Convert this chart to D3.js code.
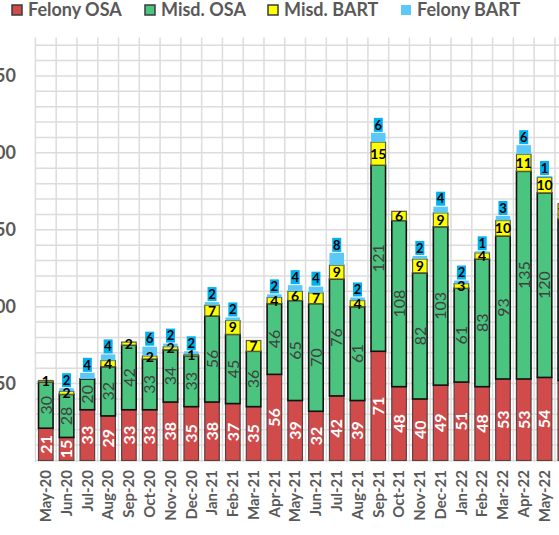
<!DOCTYPE html>
<html>
<head>
<meta charset="utf-8">
<script src="https://cdn.jsdelivr.net/npm/d3@7"></script>
<style>
  body { margin: 0; background: #fff; }
  svg { display: block; font-family: Lato, "Open Sans", sans-serif; }
</style>
</head>
<body>
<svg id="chart" width="559" height="535"></svg>
<script>
// chart data
var months = ["May-20","Jun-20","Jul-20","Aug-20","Sep-20","Oct-20","Nov-20","Dec-20",
              "Jan-21","Feb-21","Mar-21","Apr-21","May-21","Jun-21","Jul-21","Aug-21",
              "Sep-21","Oct-21","Nov-21","Dec-21","Jan-22","Feb-22","Mar-22","Apr-22",
              "May-22","Jun-22"];
var felonyOSA  = [21,15,33,29,33,33,38,35,38,37,35,56,39,32,42,39,71,48,40,49,51,48,53,53,54,52];
var misdOSA    = [30,28,20,32,42,33,34,33,56,45,36,46,65,70,76,61,121,108,82,103,61,83,93,135,120,105];
var misdBART   = [1,2,0,4,2,2,2,1,7,9,7,4,6,7,9,4,15,6,9,9,3,4,10,11,10,10];
var felonyBART = [0,2,4,4,0,6,2,2,2,2,0,2,4,4,8,2,6,0,2,4,2,1,3,6,1,0];
var seriesNames = ["Felony OSA","Misd. OSA","Misd. BART","Felony BART"];
var yTicks = [50,100,150,200,250];

var colors = {"Felony OSA":"#d24b4b","Misd. OSA":"#4bc47f","Misd. BART":"#ffff00","Felony BART":"#5bc8f7"};
var strokes = {"Felony OSA":"#5e4040","Misd. OSA":"#111","Misd. BART":"#5a5a3a","Felony BART":"none"};

var rows = months.map(function (m, i) {
    return {month: m, "Felony OSA": felonyOSA[i], "Misd. OSA": misdOSA[i],
            "Misd. BART": misdBART[i], "Felony BART": felonyBART[i]};
});

var svg = d3.select("#chart");

var x = d3.scaleBand().domain(months).range([35.4, 575.7]).paddingInner(0.3).paddingOuter(0.15);
var y = d3.scaleLinear().domain([0, 275]).range([460.5, 37.5]);

// grid
var grid = svg.append("g").attr("stroke", "#dcdcdc").attr("stroke-width", 1.5);
grid.selectAll(".h").data(d3.range(0, 271, 10)).join("line")
    .attr("x1", 35.4).attr("x2", 559)
    .attr("y1", function (d) { return y(d); }).attr("y2", function (d) { return y(d); });
grid.selectAll(".v").data(d3.range(0, months.length + 1)).join("line")
    .attr("x1", function (d) { return 35.4 + d * x.step(); })
    .attr("x2", function (d) { return 35.4 + d * x.step(); })
    .attr("y1", 37.5).attr("y2", 462);

// y axis labels (left part cut off like the picture)
var yAxis = svg.append("g").attr("transform", "translate(16,0)")
    .call(d3.axisLeft(y).tickValues(yTicks).tickSize(0).tickPadding(0));
yAxis.select(".domain").remove();
yAxis.selectAll("text").attr("fill", "#595959").attr("font-size", 18).attr("font-weight", "bold")
    .attr("font-family", "Lato, sans-serif");

// x axis labels
var xAxis = svg.append("g").attr("transform", "translate(0,462)")
    .call(d3.axisBottom(x).tickSize(0));
xAxis.select(".domain").remove();
xAxis.selectAll("text")
    .attr("transform", "rotate(-90)")
    .attr("x", -8).attr("y", 0).attr("dy", "0.35em")
    .attr("text-anchor", "end")
    .attr("fill", "#595959").attr("font-size", 15).attr("font-weight", "bold")
    .attr("font-family", "Lato, sans-serif");

// stacked bars
var stacked = d3.stack().keys(seriesNames)(rows);

var layers = svg.selectAll(".layer").data(stacked).join("g").attr("class", "layer");
layers.each(function (layer) {
    var key = layer.key;
    d3.select(this).selectAll("rect").data(layer).join("rect")
        .attr("x", function (d) { return x(d.data.month); })
        .attr("width", x.bandwidth())
        .attr("y", function (d) { return y(d[1]); })
        .attr("height", function (d) { return y(d[0]) - y(d[1]); })
        .attr("fill", colors[key])
        .attr("stroke", strokes[key])
        .attr("stroke-width", key == "Misd. OSA" ? 1.6 : 1.2)
        .style("display", function (d) { return d[1] - d[0] > 0 ? null : "none"; });
});

function cx(d) { return x(d.data.month) + x.bandwidth() / 2; }
function mid(d) { return (y(d[0]) + y(d[1])) / 2; }

// red labels: white bold, rotated
svg.append("g").selectAll("text").data(stacked[0]).join("text")
    .attr("transform", function (d) { return "translate(" + cx(d) + "," + mid(d) + ") rotate(-90)"; })
    .attr("text-anchor", "middle").attr("dy", "0.36em")
    .attr("fill", "#fff").attr("font-size", 16).attr("font-weight", "bold")
    .text(function (d) { return d[1] - d[0]; });

// green labels: dark grey, rotated
svg.append("g").selectAll("text").data(stacked[1]).join("text")
    .attr("transform", function (d) { return "translate(" + cx(d) + "," + mid(d) + ") rotate(-90)"; })
    .attr("text-anchor", "middle").attr("dy", "0.36em")
    .attr("fill", "#404040").attr("font-size", 16)
    .text(function (d) { return d[1] - d[0]; });

// yellow labels: black bold
svg.append("g").selectAll("text").data(stacked[2].filter(function (d) { return d[1] - d[0] > 0; })).join("text")
    .attr("x", cx).attr("y", mid)
    .attr("text-anchor", "middle").attr("dy", "0.36em")
    .attr("fill", "#000").attr("font-size", 14).attr("font-weight", "bold")
    .text(function (d) { return d[1] - d[0]; });

// blue labels: boxed, above the bar
var blue = svg.append("g").selectAll("g").data(stacked[3].filter(function (d) { return d[1] - d[0] > 0; }))
    .join("g")
    .attr("transform", function (d) { return "translate(" + cx(d) + "," + y(d[1]) + ")"; });
blue.append("rect").attr("x", -4.5).attr("y", -15).attr("width", 9).attr("height", 14).attr("fill", "#00b0f0");
blue.append("text").attr("y", -8).attr("dy", "0.36em").attr("text-anchor", "middle")
    .attr("fill", "#000").attr("font-size", 13).attr("font-weight", "bold")
    .text(function (d) { return d[1] - d[0]; });

// legend
var legendX = [12, 145, 268, 401];
var legend = svg.append("g").selectAll("g").data(seriesNames).join("g")
    .attr("transform", function (d, i) { return "translate(" + legendX[i] + ",10)"; });
legend.append("rect").attr("x", 0).attr("y", -5).attr("width", 10).attr("height", 10)
    .attr("fill", function (d) { return colors[d]; })
    .attr("stroke", function (d) { return d == "Felony BART" ? "none" : "#3a3a3a"; })
    .attr("stroke-width", 1.5);
legend.append("text").attr("x", 16).attr("dy", "0.36em")
    .attr("fill", "#595959").attr("font-size", 18).attr("font-weight", "bold")
    .text(function (d) { return d; });
</script>
</body>
</html>
